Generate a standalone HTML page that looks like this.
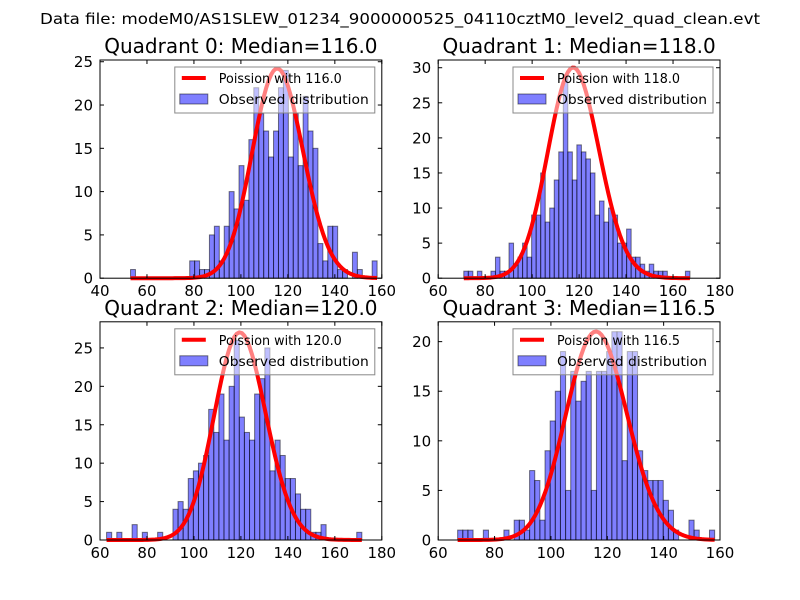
<!DOCTYPE html>
<html><head><meta charset="utf-8"><style>
html,body{margin:0;padding:0;background:#fff;}
svg{display:block;font-family:"DejaVu Sans","Liberation Sans",sans-serif;}
</style></head><body>
<svg id="fig" width="800" height="600" viewBox="0 0 800 600" xmlns="http://www.w3.org/2000/svg">
<rect width="800" height="600" fill="#fff"/>
<text x="400" y="24" font-size="15.5" text-anchor="middle" textLength="720" lengthAdjust="spacingAndGlyphs">Data file: modeM0/AS1SLEW_01234_9000000525_04110cztM0_level2_quad_clean.evt</text>
</svg>
<script>
// ---- data ----
const q0Counts=[1,0,0,0,0,0,0,0,0,0,0,0,2,2,1,1,5,6,2,6,10,8,13,9,16,22,19,17,14,17,22,24,14,19,13,21,17,15,4,2,6,6,1,1,0,3,1,0,0,2];
const q1Counts=[1,1,0,1,0,0,1,3,1,1,5,2,3,5,3,9,9,15,8,10,14,18,29,18,14,19,18,17,15,9,11,8,10,9,5,5,7,3,3,2,1,2,1,1,1,0,0,0,0,1];
const q2Counts=[1,0,1,0,0,2,0,1,0,0,1,0,0,4,5,4,8,9,10,11,17,14,19,13,20,26,16,14,13,19,21,25,9,13,11,8,8,6,4,4,1,1,2,0,0,0,0,0,0,1];
const q3Counts=[1,1,1,0,0,1,0,0,0,1,0,2,2,1,7,6,2,9,12,15,19,5,17,14,16,17,5,17,17,19,21,21,8,19,19,9,7,6,6,6,4,3,1,0,0,2,1,0,0,1];
const binStart=[53,70.9,62.8,66.9];
const binEnd=[158,167.2,171.5,158.1];
const medians=[116.0,118.0,120.0,116.5];
const curvePeaks=[24.2,30.0,27.0,21.0];
const xTicks=[[40,60,80,100,120,140,160],[60,80,100,120,140,160,180],[60,80,100,120,140,160,180],[60,80,100,120,140,160]];
const yTicks=[[0,5,10,15,20,25],[0,5,10,15,20,25,30],[0,5,10,15,20,25],[0,5,10,15,20]];
const xLims=[[40,160],[60,180],[60,180],[60,160]];
const yLims=[[0,25.2],[0,31.1],[0,28.4],[0,22]];
const allCounts=[q0Counts,q1Counts,q2Counts,q3Counts];

const NS="http://www.w3.org/2000/svg";
const svg=document.getElementById('fig');
function mk(tag,attrs,parent){const e=document.createElementNS(NS,tag);for(const k in attrs)e.setAttribute(k,attrs[k]);(parent||svg).appendChild(e);return e;}
function lgamma(z){const g=7,c=[0.99999999999980993,676.5203681218851,-1259.1392167224028,771.32342877765313,-176.61502916214059,12.507343278686905,-0.13857109526572012,9.9843695780195716e-6,1.5056327351493116e-7];z-=1;let x=c[0];for(let i=1;i<g+2;i++)x+=c[i]/(z+i);const t=z+g+0.5;return 0.5*Math.log(2*Math.PI)+(z+0.5)*Math.log(t)-t+Math.log(x);}
function pois(k,mu){return Math.exp(k*Math.log(mu)-mu-lgamma(k+1));}

const axPos=[[100,60],[438.2,60],[100,321.8],[438.2,321.8]];
const W=281.8,H=218.2;
for(let q=0;q<4;q++){
  const [L,T]=axPos[q];
  const counts=allCounts[q];
  const g=mk('g',{});
  
  
  const xs=v=>L+(v-xLims[q][0])/(xLims[q][1]-xLims[q][0])*W;
  const ys=v=>T+H-(v-yLims[q][0])/(yLims[q][1]-yLims[q][0])*H;
  const bw=(binEnd[q]-binStart[q])/counts.length;
  for(let i=0;i<counts.length;i++){
    if(counts[i]<=0)continue;
    const x0=xs(binStart[q]+i*bw),x1=xs(binStart[q]+(i+1)*bw);
    const r=mk('rect',{x:x0,y:ys(counts[i]),width:x1-x0,height:ys(0)-ys(counts[i]),fill:'rgba(0,0,255,0.5)',stroke:'rgba(0,0,0,0.5)','stroke-width':1},g);
    
    
  }
  // poisson curve scaled to its peak
  const pk=pois(medians[q],medians[q]);
  let d='';
  const steps=100;
  for(let i=0;i<=steps;i++){
    const k=binStart[q]+i*(binEnd[q]-binStart[q])/steps;
    const y=curvePeaks[q]*pois(k,medians[q])/pk;
    d+=(i?'L':'M')+xs(k).toFixed(2)+' '+ys(y).toFixed(2);
  }
  const p=mk('path',{d:d,fill:'none',stroke:'red','stroke-width':4,'stroke-linejoin':'round'},g);
  
  
  mk('rect',{x:L,y:T,width:W,height:H,fill:'none',stroke:'#000','stroke-width':1},g);
  xTicks[q].forEach(v=>{
    const x=xs(v);
    mk('line',{x1:x,x2:x,y1:T+H,y2:T+H-4,stroke:'#000'},g);
    mk('line',{x1:x,x2:x,y1:T,y2:T+4,stroke:'#000'},g);
    const t=mk('text',{x:x,y:T+H+18,'font-size':15,'text-anchor':'middle'},g);
    t.textContent=v;
    
    
  });
  yTicks[q].forEach(v=>{
    const y=ys(v);
    mk('line',{x1:L,x2:L+4,y1:y,y2:y,stroke:'#000'},g);
    mk('line',{x1:L+W,x2:L+W-4,y1:y,y2:y,stroke:'#000'},g);
    const t=mk('text',{x:L-7,y:y+5.5,'font-size':15,'text-anchor':'end'},g);
    t.textContent=v;
    
    
  });
  const tt=mk('text',{x:L+W/2,y:T-7,'font-size':20,'text-anchor':'middle'},g);
  tt.textContent='Quadrant '+q+': Median='+medians[q].toFixed(1);
  
  
  const lg=mk('g',{},g);
  
  
  const lx=L+W-207,ly=T+7;
  mk('rect',{x:lx,y:ly,width:200,height:46,fill:'rgba(255,255,255,0.5)',stroke:'#888','stroke-width':1},lg);
  mk('line',{x1:lx+7,x2:lx+31,y1:ly+11,y2:ly+11,stroke:'red','stroke-width':4},lg);
  const l1=mk('text',{x:lx+44,y:ly+16,'font-size':13.5,textLength:123,lengthAdjust:'spacingAndGlyphs'},lg);
  l1.textContent='Poission with '+medians[q].toFixed(1);
  
  
  mk('rect',{x:lx+5,y:ly+27,width:28,height:10,fill:'rgba(0,0,255,0.5)',stroke:'rgba(0,0,0,0.5)'},lg);
  const l2=mk('text',{x:lx+44,y:ly+37,'font-size':13.5,textLength:150,lengthAdjust:'spacingAndGlyphs'},lg);
  l2.textContent='Observed distribution';
  
  
}
</script>
</body></html>
